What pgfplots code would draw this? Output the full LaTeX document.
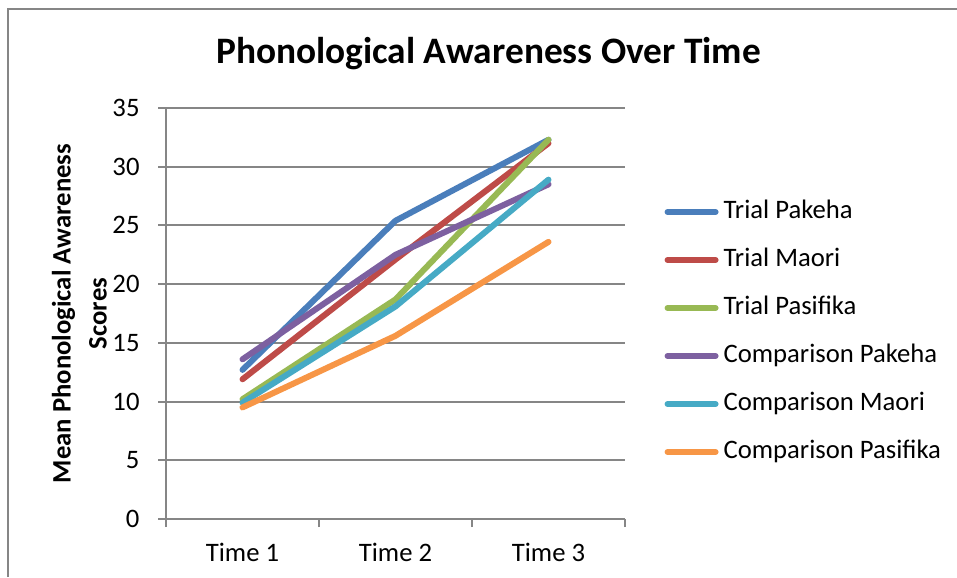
\documentclass[border=0pt]{standalone}
\usepackage{fontspec}
\setmainfont{Carlito}
\usepackage{pgfplots}
\pgfplotsset{compat=1.18}
\definecolor{cBlue}{HTML}{4A7EBB}
\definecolor{cRed}{HTML}{BE4B48}
\definecolor{cGreen}{HTML}{98B954}
\definecolor{cPurple}{HTML}{7D60A0}
\definecolor{cTeal}{HTML}{46AAC5}
\definecolor{cOrange}{HTML}{F79646}
\definecolor{cGrid}{HTML}{868686}
\begin{document}
\begin{tikzpicture}
\useasboundingbox (0,0) rectangle (358.875pt,216.375pt);
\draw[cGrid, line width=0.75pt] (3pt,0pt) -- (3pt,213pt) -- (358.875pt,213pt);
\node[anchor=base, font=\fontsize{14}{17}\selectfont\bfseries] at (183.2pt,192.4pt) {Phonological Awareness Over Time};
\begin{axis}[
  at={(62.25pt,21.75pt)}, anchor=south west,
  scale only axis, width=172.125pt, height=154.125pt,
  xmin=0.5, xmax=3.5, ymin=0, ymax=35,
  axis x line*=bottom, axis y line*=left,
  axis line style={cGrid, line width=0.75pt},
  xtick={1,2,3}, xticklabels={Time 1,Time 2,Time 3},
  minor xtick={0.5,1.5,2.5,3.5},
  major x tick style={draw=none},
  minor x tick style={cGrid, line width=0.75pt},
  ytick={0,5,...,35},
  y tick style={cGrid, line width=0.75pt},
  tick align=outside, major tick length=3pt, minor tick length=3pt,
  ymajorgrids, grid style={cGrid, line width=0.75pt},
  /pgf/number format/assume math mode=true,
  tick label style={font=\fontsize{10}{12}\selectfont},
  yticklabel style={xshift=-3.4pt},
  xticklabel style={anchor=base, yshift=-13pt},
  ylabel={Mean Phonological Awareness\\Scores},
  every axis y label/.style={at={(axis description cs:-0.189,0.5)}, rotate=90, anchor=center, align=center, font=\fontsize{10}{13.5}\selectfont\bfseries},
  legend style={at={(axis description cs:1.085,0.455)}, anchor=west, draw=none, fill=none, inner sep=0pt,
    cells={anchor=west}, nodes={inner sep=0pt, text height=7pt, text depth=2pt, font=\fontsize{10}{12}\selectfont},
    row sep=9pt, /tikz/every odd column/.append style={column sep=1.9pt}},
  legend image code/.code={\draw[#1, line width=2.25pt, line cap=round] (1.125pt,0pt) -- (19.125pt,0pt);},
  every axis plot/.append style={line width=2.25pt, line cap=round, line join=round},
]
\addplot[cBlue] coordinates {(1,12.7) (2,25.4) (3,32.3)};
\addlegendentry{Trial Pakeha}
\addplot[cRed] coordinates {(1,11.9) (2,22.1) (3,32.0)};
\addlegendentry{Trial Maori}
\addplot[cGreen] coordinates {(1,10.2) (2,18.7) (3,32.3)};
\addlegendentry{Trial Pasifika}
\addplot[cPurple] coordinates {(1,13.6) (2,22.5) (3,28.5)};
\addlegendentry{Comparison Pakeha}
\addplot[cTeal] coordinates {(1,9.9) (2,18.1) (3,28.9)};
\addlegendentry{Comparison Maori}
\addplot[cOrange] coordinates {(1,9.5) (2,15.6) (3,23.6)};
\addlegendentry{Comparison Pasifika}
\end{axis}
\end{tikzpicture}
\end{document}
